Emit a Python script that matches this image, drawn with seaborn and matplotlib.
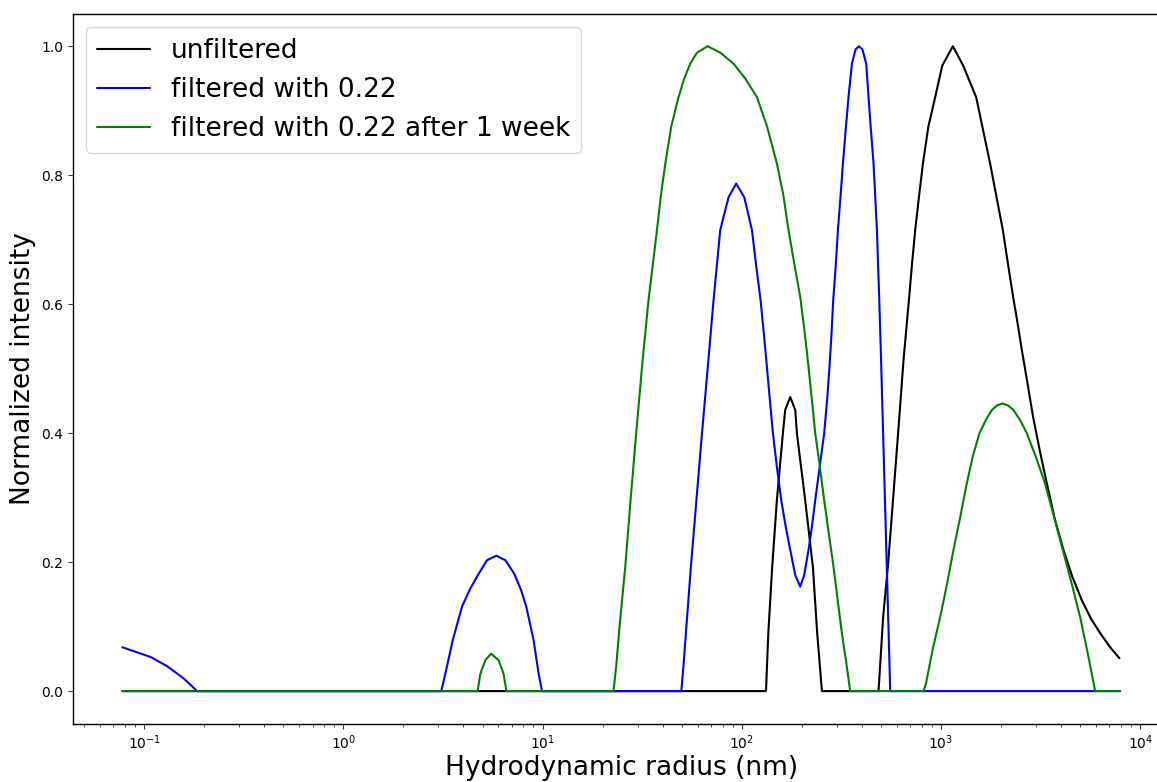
import numpy as np
import pandas as pd
import matplotlib
matplotlib.use("Agg")
import matplotlib.pyplot as plt
import seaborn as sns

# Hydrodynamic radius (nm) and normalized intensity
unf_x = [0.0778, 132.2, 135.8, 142.0, 149.9, 160.7, 165.1, 174.9, 185.4, 188.9, 208.0, 227.4,
         238.9, 252.3, 485.3, 498, 512, 543, 575, 612, 647.8, 691.8, 716, 741.5, 777, 810.6,
         863, 934, 1014, 1146, 1291, 1500, 1625, 1763, 1901, 2042, 2172, 2300, 2423, 2543,
         2723, 2897, 3143, 3395, 3735, 4114, 4550, 5085, 5663, 6285, 7055, 7855]
unf_y = [0, 0, 0.09, 0.192, 0.296, 0.40, 0.436, 0.456, 0.436, 0.40, 0.296, 0.192,
         0.09, 0, 0, 0.055, 0.115, 0.20, 0.30, 0.41, 0.513, 0.611, 0.665, 0.715, 0.77, 0.818,
         0.875, 0.921, 0.97, 1.0, 0.97, 0.921, 0.87, 0.818, 0.765, 0.715, 0.66, 0.611, 0.57, 0.529,
         0.475, 0.425, 0.37, 0.322, 0.265, 0.219, 0.178, 0.141, 0.112, 0.09, 0.068, 0.051]

f22_x = [0.0778, 0.1076, 0.1303, 0.158, 0.1845, 3.10, 3.25, 3.54, 3.94, 4.30, 4.78, 5.26,
         5.86, 6.50, 7.21, 7.79, 8.28, 9.01, 9.55, 9.93, 49.7, 50.9, 55.5, 63.1, 67.8, 72.1,
         77.9, 85.8, 93.7, 102.8, 112.4, 118, 124.2, 128.9, 133.6, 138.4, 143.2, 149.6, 157.7,
         166, 174.9, 185.4, 196.3, 205.6, 216.1, 224.8, 233.5, 246.4, 259.0, 268.5, 275.4, 282,
         287.5, 296, 303.6, 312.5, 321.6, 332, 343, 357, 372, 387, 403, 421, 432.5, 444.6,
         458.2, 467.5, 476.5, 483, 489, 500, 555.6, 7925]
f22_y = [0.068, 0.053, 0.0388, 0.0196, 0, 0, 0.027, 0.079, 0.131, 0.157, 0.182, 0.203,
         0.21, 0.203, 0.182, 0.157, 0.131, 0.079, 0.027, 0, 0, 0.038, 0.193, 0.40, 0.51, 0.606,
         0.715, 0.766, 0.787, 0.766, 0.715, 0.66, 0.606, 0.555, 0.503, 0.45, 0.40, 0.35, 0.296,
         0.255, 0.219, 0.18, 0.162, 0.18, 0.219, 0.255, 0.296, 0.35, 0.40, 0.455, 0.503, 0.555,
         0.606, 0.66, 0.715, 0.765, 0.818, 0.87, 0.921, 0.973, 0.995, 1.0, 0.995, 0.973, 0.921, 0.87,
         0.818, 0.765, 0.715, 0.66, 0.611, 0.513, 0, 0]

f22w_x = [0.0778, 4.72, 4.87, 5.16, 5.51, 6.01, 6.37, 6.58, 22.7, 23.4, 24.5, 26.0, 27.7,
          29.5, 31.6, 34.0, 35.7, 37.5, 39.3, 41.3, 44.2, 48.1, 51.4, 55.1, 59.5, 67.3, 78.0,
          90.8, 104, 119.1, 134, 150, 161.4, 171.5, 184, 196.4, 207, 216.1, 225, 233.5, 246,
          259, 273, 288.5, 303, 317.8, 334, 349.8, 816, 840, 908, 990, 1073, 1154, 1248, 1346,
          1445, 1559, 1675, 1799, 1910, 2033, 2167, 2307, 2495, 2693, 3000, 3326, 3691, 4083,
          4522, 4988, 5435, 5934, 7925]
f22w_y = [0, 0, 0.027, 0.048, 0.058, 0.048, 0.027, 0, 0, 0.038, 0.11, 0.193, 0.30,
          0.40, 0.505, 0.606, 0.66, 0.715, 0.77, 0.818, 0.875, 0.921, 0.95, 0.973, 0.99, 1.0, 0.99,
          0.973, 0.95, 0.921, 0.875, 0.818, 0.77, 0.715, 0.66, 0.611, 0.555, 0.503, 0.45, 0.40, 0.35,
          0.296, 0.245, 0.193, 0.14, 0.09, 0.045, 0, 0, 0.012, 0.065, 0.115, 0.167, 0.219, 0.27, 0.322,
          0.365, 0.40, 0.42, 0.436, 0.443, 0.446, 0.443, 0.436, 0.42, 0.40, 0.362, 0.322, 0.27, 0.219,
          0.167, 0.115, 0.06, 0, 0]

labels = ["unfiltered", "filtered with 0.22", "filtered with 0.22 after 1 week"]
colors = ["black", "blue", "green"]

sns.set_style("ticks")
plt.rcParams["font.family"] = ["DejaVu Sans"]
plt.rcParams["text.color"] = "black"
plt.rcParams["axes.labelcolor"] = "black"

fig = plt.figure(figsize=(11.57, 7.82), dpi=100)
# the reference's axes run past the right edge of the image (cropped)
ax = fig.add_axes([73 / 1157, 1 - 724 / 782, (1170 - 73) / 1157, (724 - 14) / 782])

for xs, ys, lab, col in zip([unf_x, f22_x, f22w_x], [unf_y, f22_y, f22w_y], labels, colors):
    df = pd.DataFrame({"x": xs, "y": ys})
    sns.lineplot(data=df, x="x", y="y", color=col, label=lab, ax=ax,
                 estimator=None, linewidth=1.5)

ax.set_xscale("log")
ax.set_xlim(10 ** (-1.357), 10 ** (4.149))
ax.set_ylim(-0.051, 1.05)
ax.set_yticks([0.0, 0.2, 0.4, 0.6, 0.8, 1.0])
ax.set_xlabel("Hydrodynamic radius (nm)", fontsize=19, labelpad=2)
ax.set_ylabel("Normalized intensity", fontsize=19)
ax.tick_params(labelsize=10, colors="#333333", labelcolor="black")
for s in ax.spines.values():
    s.set_color("black")
    s.set_linewidth(1.0)
ax.legend(loc="upper left", fontsize=19, frameon=True)

fig.savefig("out.png", dpi=100)
